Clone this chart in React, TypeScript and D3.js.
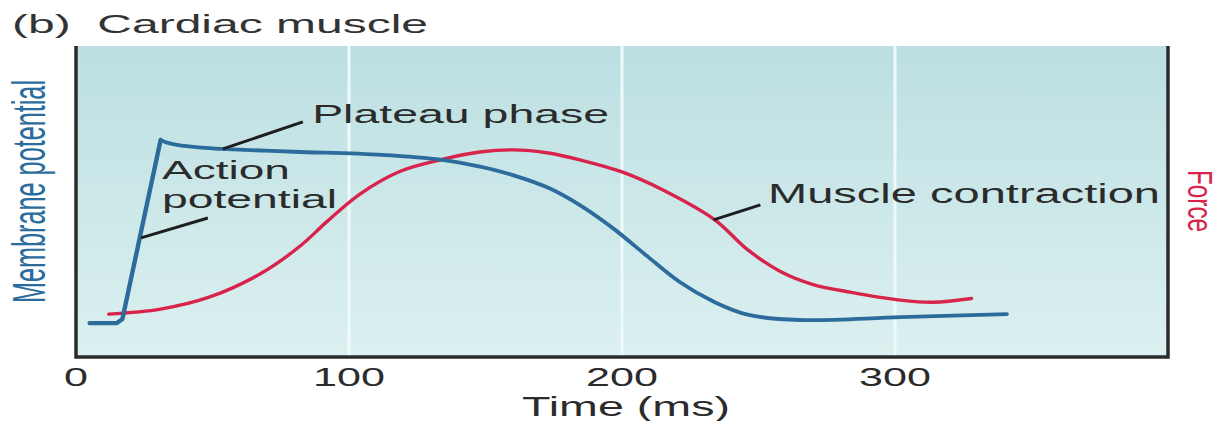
import { useEffect, useRef } from 'react';
import * as d3 from 'd3';

const W = 1222;
const H = 421;

// x axis: time in ms
const timeTicks = [0, 100, 200, 300];
const gridTicks = [100, 200, 300];

// Membrane potential (blue), arbitrary units 0-100
// the upstroke is straight, the rest is smooth
const apRiseTime = [5, 15, 17, 31];
const apRiseValue = [10.9, 10.9, 12.2, 69.8];
const apTime = [31, 33, 37, 46, 53, 80, 112, 134, 148, 160, 173, 185, 197, 209, 221, 234, 246, 265, 302, 341];
const apValue = [69.8, 69.0, 68.2, 67.3, 66.9, 66.0, 65.0, 63.4, 61.2, 58.5, 54.4, 48.6, 41.2, 32.6, 24.2, 17.6, 13.6, 11.9, 12.8, 13.8];

// Force (red), arbitrary units 0-100
const forceTime = [12, 31, 49, 68, 82, 92, 104, 119, 134, 148, 160, 173, 185, 200, 215, 234, 246, 258, 270, 284, 302, 314, 328];
const forceValue = [13.8, 15.4, 19.3, 27.0, 35.6, 43.6, 52.4, 59.8, 63.5, 65.9, 66.6, 65.6, 63.3, 59.5, 53.7, 44.1, 34.5, 27.5, 23.3, 20.8, 18.3, 17.6, 18.8];

// annotation text and leader lines, in data units
const notes = [
  { lines: ['Plateau phase'], t: 86.5, v: 75.2, lens: [297], size: 25 },
  { lines: ['Action', 'potential'], t: 31.5, v: 57.2, lens: [128, 175], size: 25 },
  { lines: ['Muscle contraction'], t: 253.5, v: 49.5, lens: [392], size: 27 },
];
const leaders = [
  [[53.8, 66.9], [83.1, 75.6]],
  [[23.8, 38.3], [48.3, 44.7]],
  [[233.5, 44.1], [250.7, 48.9]],
];

const BLUE = '#2c6c9c';
const RED = '#d8234a';
const INK = '#2b2b2b';
const FONT = '"Liberation Sans", Arial, Helvetica, sans-serif';

export default function App() {
  const svgRef = useRef<SVGSVGElement>(null);

  useEffect(() => {
    if (!svgRef.current) return;
    const svg = d3.select(svgRef.current);
    svg.selectAll('*').remove();

    const x = d3.scaleLinear().domain([0, 400]).range([76, 1168]);
    const y = d3.scaleLinear().domain([0, 100]).range([357, 46]);

    const defs = svg.append('defs');
    const grad = defs.append('linearGradient')
      .attr('id', 'bg')
      .attr('x1', 0).attr('y1', 0).attr('x2', 0).attr('y2', 1);
    grad.append('stop').attr('offset', '0%').attr('stop-color', '#bcdfe2');
    grad.append('stop').attr('offset', '100%').attr('stop-color', '#dcf0f0');

    // plot background
    svg.append('rect')
      .attr('x', x(0))
      .attr('y', y(100))
      .attr('width', x(400) - x(0))
      .attr('height', y(0) - y(100))
      .attr('fill', 'url(#bg)');

    // white vertical grid
    svg.append('g')
      .selectAll('line')
      .data(gridTicks)
      .join('line')
      .attr('x1', d => x(d))
      .attr('x2', d => x(d))
      .attr('y1', y(100))
      .attr('y2', y(0))
      .attr('stroke', '#eef9fa')
      .attr('stroke-width', 3);

    // frame: left, bottom, right
    svg.append('path')
      .attr('d', `M${x(0)},${y(100)}V${y(0)}H${x(400)}V${y(100)}`)
      .attr('fill', 'none')
      .attr('stroke', INK)
      .attr('stroke-width', 3.5);

    // tick labels
    svg.append('g')
      .selectAll('text')
      .data(timeTicks)
      .join('text')
      .attr('x', d => x(d))
      .attr('y', 386)
      .attr('text-anchor', 'middle')
      .attr('textLength', d => String(d).length * 24)
      .attr('lengthAdjust', 'spacingAndGlyphs')
      .style('font-family', FONT)
      .style('font-size', '26px')
      .style('fill', INK)
      .text(d => String(d));

    svg.append('text')
      .attr('x', 626)
      .attr('y', 416)
      .attr('text-anchor', 'middle')
      .attr('textLength', 208)
      .attr('lengthAdjust', 'spacingAndGlyphs')
      .style('font-family', FONT)
      .style('font-size', '27px')
      .style('fill', INK)
      .text('Time (ms)');

    // title
    svg.append('text')
      .attr('x', 12)
      .attr('y', 33)
      .attr('textLength', 416)
      .attr('lengthAdjust', 'spacingAndGlyphs')
      .style('font-family', FONT)
      .style('font-size', '25px')
      .style('fill', '#333')
      .text('(b)\u00A0 Cardiac muscle');

    // axis titles
    svg.append('text')
      .attr('transform', 'translate(45,191.5) rotate(-90) scale(1,1.75)')
      .attr('text-anchor', 'middle')
      .attr('textLength', 223)
      .attr('lengthAdjust', 'spacingAndGlyphs')
      .style('font-family', FONT)
      .style('font-size', '26px')
      .style('fill', BLUE)
      .text('Membrane potential');

    svg.append('text')
      .attr('transform', 'translate(1188,201) rotate(90) scale(1,1.45)')
      .attr('text-anchor', 'middle')
      .attr('textLength', 62)
      .attr('lengthAdjust', 'spacingAndGlyphs')
      .style('font-family', FONT)
      .style('font-size', '24px')
      .style('fill', RED)
      .text('Force');

    // curves
    const linear = d3.line<[number, number]>()
      .x(d => x(d[0]))
      .y(d => y(d[1]));
    const smooth = d3.line<[number, number]>()
      .x(d => x(d[0]))
      .y(d => y(d[1]))
      .curve(d3.curveCatmullRom.alpha(0.5));

    const forceData = forceTime.map((t, i) => [t, forceValue[i]] as [number, number]);
    const riseData = apRiseTime.map((t, i) => [t, apRiseValue[i]] as [number, number]);
    const apData = apTime.map((t, i) => [t, apValue[i]] as [number, number]);

    svg.append('path')
      .datum(forceData)
      .attr('fill', 'none')
      .attr('stroke', RED)
      .attr('stroke-width', 3.4)
      .attr('stroke-linecap', 'round')
      .attr('d', smooth);

    svg.append('path')
      .datum(riseData)
      .attr('fill', 'none')
      .attr('stroke', BLUE)
      .attr('stroke-width', 4.4)
      .attr('stroke-linejoin', 'round')
      .attr('stroke-linecap', 'round')
      .attr('d', linear);

    svg.append('path')
      .datum(apData)
      .attr('fill', 'none')
      .attr('stroke', BLUE)
      .attr('stroke-width', 3.8)
      .attr('stroke-linecap', 'round')
      .attr('d', smooth);

    // leader lines
    svg.append('g')
      .selectAll('path')
      .data(leaders as [number, number][][])
      .join('path')
      .attr('d', d => linear(d))
      .attr('fill', 'none')
      .attr('stroke', '#1e1e1e')
      .attr('stroke-width', 3);

    // annotation text
    notes.forEach(n => {
      n.lines.forEach((line, i) => {
        svg.append('text')
          .attr('x', x(n.t))
          .attr('y', y(n.v) + i * 29)
          .attr('textLength', n.lens[i])
          .attr('lengthAdjust', 'spacingAndGlyphs')
          .style('font-family', FONT)
          .style('font-size', `${n.size}px`)
          .style('fill', INK)
          .text(line);
      });
    });
  }, []);

  return (
    <div style={{ position: 'absolute', left: 0, top: 0 }}>
      <svg ref={svgRef} width={W} height={H} style={{ display: 'block', background: '#fff' }} />
    </div>
  );
}
